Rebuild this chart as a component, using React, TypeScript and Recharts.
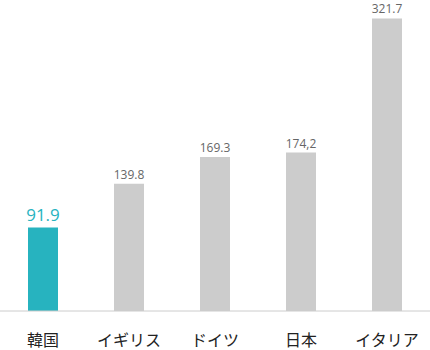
import React from "react";
import { BarChart, Bar, XAxis, YAxis, Cell, LabelList } from "recharts";

const countries = ["韓国", "イギリス", "ドイツ", "日本", "イタリア"];
const values = [91.9, 139.8, 169.3, 174.2, 321.7];
const valueLabels = ["91.9", "139.8", "169.3", "174,2", "321.7"];

const HIGHLIGHT = "#27b3bf";
const GRAY = "#cccccc";

const data = countries.map((name, i) => ({ name, value: values[i], label: valueLabels[i] }));

const renderLabel = (props: any) => {
  const { x, y, width, index } = props;
  const first = index === 0;
  return (
    <text
      x={Number(x) + Number(width) / 2}
      y={Number(y) - (first ? 6 : 5)}
      textAnchor="middle"
      fill={first ? HIGHLIGHT : "#666666"}
      fontSize={first ? 17 : 12}
      fontFamily="'Open Sans', sans-serif"
    >
      {valueLabels[index]}
    </text>
  );
};

export default function App() {
  return (
    <div style={{ position: "absolute", left: 0, top: 0, background: "#fff" }}>
      <BarChart
        width={430}
        height={350}
        data={data}
        margin={{ top: 0, right: 0, left: 0, bottom: 0 }}
        barSize={30}
      >
        <XAxis
          dataKey="name"
          height={39}
          axisLine={{ stroke: "#cccccc" }}
          tickLine={false}
          tickMargin={18}
          interval={0}
          tick={{ fontSize: 16, fill: "#222222", fontFamily: "'Noto Sans CJK JP', sans-serif" }}
        />
        <YAxis hide domain={[0, 342]} />
        <Bar dataKey="value" isAnimationActive={false}>
          {data.map((entry, index) => (
            <Cell key={`cell-${index}`} fill={index === 0 ? HIGHLIGHT : GRAY} />
          ))}
          <LabelList dataKey="value" content={renderLabel} />
        </Bar>
      </BarChart>
    </div>
  );
}
